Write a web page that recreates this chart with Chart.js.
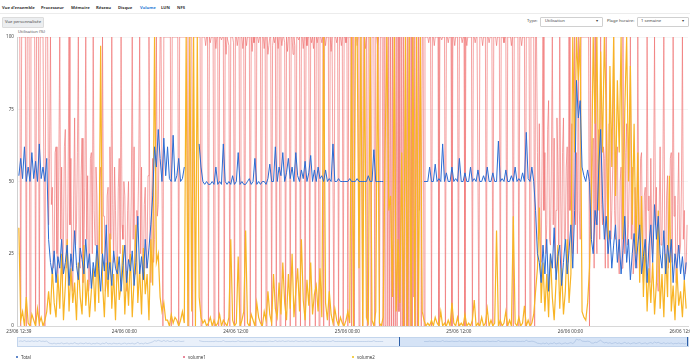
<!DOCTYPE html>
<html><head><meta charset="utf-8">
<script src="https://cdn.jsdelivr.net/npm/chart.js@4.4.1/dist/chart.umd.min.js"></script>
<style>
body{margin:0;width:690px;height:363px;background:#fff;font-family:"Noto Sans","DejaVu Sans",sans-serif;overflow:hidden;position:relative;color:#333}
.a{position:absolute;white-space:nowrap;line-height:1}
.tab{font-size:4.2px;font-weight:700;top:6px;color:#333}
.sel{position:absolute;border:1px solid #d0d0d0;border-radius:1px;background:#fff;height:8px;top:17px}
.sm{font-size:4.2px;color:#444}
.leg{font-size:4.4px;color:#444;top:355px}
.dot{position:absolute;width:2.4px;height:2.4px;border-radius:50%;top:356px}
</style></head><body>
<div class="a tab" style="left:2px">Vue d'ensemble</div>
<div class="a tab" style="left:41px">Processeur</div>
<div class="a tab" style="left:71px">Mémoire</div>
<div class="a tab" style="left:96px">Réseau</div>
<div class="a tab" style="left:118px">Disque</div>
<div class="a tab" style="left:140px;color:#2a7ad6">Volume</div>
<div class="a tab" style="left:161px">LUN</div>
<div class="a tab" style="left:177px">NFS</div>
<div class="a" style="left:0;top:13px;width:690px;height:1px;background:#ececec"></div>
<div class="a sm" style="left:2px;top:17px;width:40px;height:9px;background:#eceef0;border:1px solid #dcdcdc;border-radius:1px;display:flex;align-items:center;justify-content:center">Vue personnalisée</div>
<div class="a sm" style="left:527px;top:19px">Type:</div>
<div class="sel" style="left:540px;width:61px"></div>
<div class="a sm" style="left:545px;top:19px">Utilisation</div>
<div class="a sm" style="left:596px;top:19px">▾</div>
<div class="a sm" style="left:607px;top:19px">Plage horaire:</div>
<div class="sel" style="left:637px;width:50px"></div>
<div class="a sm" style="left:641px;top:19px">1 semaine</div>
<div class="a sm" style="left:682px;top:19px">▾</div>
<div class="a sm" style="left:18px;top:30px;color:#555">Utilisation (%)</div>
<canvas id="c" width="690" height="312" style="position:absolute;left:0;top:28px"></canvas>
<div class="a" style="left:17px;top:337px;width:670px;height:8px;background:#e9f0fa;border:1px solid #c3d5ec"></div>
<div class="a" style="left:399px;top:338px;width:288px;height:8px;background:rgba(170,200,238,0.3)"></div>
<canvas id="n" width="671" height="9" style="position:absolute;left:17px;top:337px"></canvas>
<div class="a" style="left:398.5px;top:337px;width:1px;height:9px;background:#2c5fa8"></div>
<div class="a" style="left:686.5px;top:337px;width:1px;height:9px;background:#2c5fa8"></div>
<div class="dot" style="left:16px;background:#2b5fb8"></div><div class="a leg" style="left:21px">Total</div>
<div class="dot" style="left:183px;background:#e0607a"></div><div class="a leg" style="left:188px">volume1</div>
<div class="dot" style="left:352px;background:#f0c010"></div><div class="a leg" style="left:357px">volume2</div>
<script>
const STEP_H = 0.2;    // hours between Total / volume2 samples, from 23/06 12:39
const STEP_V1_H = 0.1; // hours between volume1 samples
const TICK_HOURS = [0, 11.35, 23.35, 35.35, 47.35, 59.35, 71.35];
const TICK_LABELS = ["23/06 12:39","24/06 00:00","24/06 12:00","25/06 00:00","25/06 12:00","26/06 00:00","26/06 12:00"];
const SERIES_NAMES = ["Total","volume1","volume2"];

const TOTAL = [
52,58,51,62,50,55,50,60,51,57,50,63,51,55,50,58,30,22,18,26,
15,24,20,30,18,22,28,14,25,19,33,21,16,27,23,18,30,20,25,13,
22,17,28,20,12,25,19,35,16,22,14,26,20,18,24,12,21,28,15,23,
19,26,14,22,38,18,24,16,30,20,27,35,45,62,55,68,58,50,65,52,
62,51,50,66,50,52,58,50,51,55,null,null,null,null,null,null,null,63,55,50,
49,50,49,49,50,49,55,49,50,49,63,50,49,50,49,52,49,50,60,49,
50,49,49,50,51,49,50,58,49,50,49,50,50,49,51,56,50,50,62,50,
55,52,60,50,53,58,51,55,50,60,52,50,54,51,57,50,53,59,50,54,
50,55,51,52,50,54,50,51,50,63,50,50,51,50,50,50,50,50,51,50,
50,50,51,50,50,50,50,50,52,50,50,61,50,50,50,50,50,null,null,null,
null,null,null,null,null,null,null,null,null,null,null,null,null,null,null,null,null,null,50,50,
50,55,50,50,56,50,51,50,63,50,53,50,50,55,50,51,50,58,50,50,
53,50,50,55,50,51,50,54,50,50,52,50,55,50,50,53,50,50,64,50,
51,50,54,50,50,52,50,55,50,51,50,53,50,67,51,50,55,50,40,25,
22,15,28,18,30,12,25,20,34,16,24,28,14,22,30,18,26,35,20,40,
85,72,78,55,52,50,54,50,30,25,40,35,55,68,45,30,38,25,33,20,
28,35,22,30,18,26,38,22,30,16,25,32,20,28,35,18,24,30,15,28,
35,22,42,30,38,25,20,33,18,28,22,30,15,25,20,28,18,24,16,22
];

const VOLUME1 = [
100,100,0,100,100,100,100,100,0,100,100,100,0,100,100,100,100,100,0,100,100,100,0,100,100,100,100,100,0,100,100,100,35,58,100,42,48,20,22,60,
62,25,18,55,100,30,55,15,30,62,68,20,22,50,100,35,58,18,12,45,72,28,35,60,100,22,20,52,65,15,28,48,100,30,52,12,15,58,60,25,
100,40,28,55,45,18,20,50,55,25,100,38,38,12,15,45,48,20,62,30,100,42,22,55,40,15,18,48,58,25,100,35,30,50,45,18,12,40,50,22,
25,45,100,30,62,18,20,40,35,55,100,25,55,15,18,42,48,20,28,52,100,35,15,45,58,22,30,50,100,38,42,65,100,100,100,0,100,100,100,100,
100,100,100,100,0,100,100,100,100,100,100,100,0,100,100,100,100,100,100,100,100,100,0,100,100,100,100,0,100,100,100,100,100,100,100,100,0,100,100,100,
100,97,100,100,0,100,98,100,100,100,0,100,96,100,100,0,100,100,99,100,100,0,100,94,100,100,97,0,100,100,100,98,0,100,100,97,100,100,0,100,
100,96,100,0,100,97,100,100,100,0,100,95,100,98,100,0,100,100,98,100,100,0,100,100,96,100,0,100,94,97,100,100,0,97,100,98,100,0,100,96,
100,0,100,97,100,100,98,0,100,95,100,100,0,100,100,94,100,97,0,100,100,99,100,0,100,100,96,100,0,100,97,100,100,0,100,98,100,96,100,0,
100,98,100,0,100,100,98,100,0,100,97,100,100,100,0,100,95,100,100,0,100,100,98,100,0,100,100,97,100,0,100,100,98,100,0,100,100,100,0,100,
100,0,100,100,97,100,0,100,100,100,0,100,100,96,100,0,100,100,100,0,100,100,100,0,100,100,97,100,0,100,100,100,0,100,0,100,100,0,100,0,
100,0,100,0,100,0,100,0,100,5,100,0,100,0,100,0,100,0,100,0,100,0,100,0,100,10,100,0,100,0,100,40,100,0,100,100,0,100,100,100,
100,98,100,100,0,100,100,97,100,100,100,100,0,100,100,99,100,100,100,0,100,100,98,100,100,100,0,100,100,97,100,100,100,0,100,100,100,98,100,100,
0,100,97,100,100,100,100,100,0,100,100,98,100,100,100,0,100,100,100,97,100,100,100,0,100,100,98,100,100,100,0,100,100,100,97,100,100,100,0,100,
100,100,98,100,100,0,100,100,100,100,97,100,0,100,100,100,100,100,0,100,100,97,100,100,100,0,100,100,100,100,0,100,100,100,100,0,100,100,60,30,
70,30,22,58,100,40,60,25,35,68,78,30,28,55,100,35,65,20,40,72,55,28,100,45,18,60,72,30,30,55,62,22,100,40,45,70,25,50,100,35,
60,25,100,40,30,100,100,100,100,100,100,100,100,100,0,100,30,55,65,20,100,35,25,58,68,30,100,42,35,62,58,20,100,45,20,70,75,30,40,55,
100,40,30,58,62,25,18,50,55,20,100,38,25,60,70,28,35,55,100,30,55,18,22,48,48,20,100,35,30,58,60,25,15,45,48,22,100,40,45,15,
58,30,25,50,100,35,48,15,12,40,62,28,30,55,100,25,18,45,52,20,35,58,60,22,100,38,45,15,15,42,60,25,28,50,100,30,40,18,20,35
];

const VOLUME2 = [
34,2,5,0,10,1,0,4,2,0,6,1,3,0,2,5,12,4,20,8,
3,18,6,25,2,14,30,5,20,8,15,2,22,10,4,28,7,16,3,12,
20,5,26,8,97,15,3,22,10,32,6,18,2,24,9,14,28,4,19,7,
25,3,16,35,8,20,4,27,11,18,2,30,14,100,22,25,10,5,8,2,
2,0,4,1,3,2,0,2,5,1,100,0,100,5,100,0,100,10,3,1,
2,0,1,3,0,2,0,1,4,0,2,1,0,3,30,2,0,1,24,0,
2,5,33,1,0,4,2,0,8,3,1,0,5,2,12,4,1,18,6,3,
15,4,22,8,2,18,6,25,3,12,20,5,30,9,2,16,7,22,4,11,
14,5,20,3,100,8,2,12,4,1,6,2,0,3,1,0,2,5,1,100,
0,100,100,20,100,0,100,3,1,100,2,0,5,100,1,0,3,60,100,40,
45,10,100,5,30,8,60,0,100,0,100,0,100,0,100,0,100,5,2,0,
1,0,2,0,3,1,0,5,0,1,0,2,0,8,1,0,3,0,1,0,
4,0,1,0,2,9,0,1,0,3,0,1,6,0,2,0,1,33,0,2,
0,1,5,0,2,0,38,1,0,3,0,1,7,0,2,0,1,4,12,20,
41,8,22,5,18,3,25,10,2,15,28,6,20,4,12,30,8,18,100,60,
100,85,100,5,3,2,8,20,45,100,70,100,40,95,60,100,75,30,90,55,
100,45,85,60,100,30,75,100,50,90,35,70,25,60,15,45,10,30,5,20,
8,22,4,15,40,6,18,3,25,10,52,5,14,2,20,7,12,3,16,6
];

const toXY = (arr, step) => arr.map((v, i) => ({x: i * step, y: v}));
const FONT = {family: "'Noto Sans','DejaVu Sans',sans-serif", size: 4.6};

new Chart(document.getElementById('c'), {
  type: 'line',
  data: {datasets: [
    {label: SERIES_NAMES[0], data: toXY(TOTAL, STEP_H), borderColor: '#2b6bd3', borderWidth: 1, order: 0},
    {label: SERIES_NAMES[1], data: toXY(VOLUME1, STEP_V1_H), borderColor: 'rgba(240,112,112,0.72)', borderWidth: 0.9, order: 2},
    {label: SERIES_NAMES[2], data: toXY(VOLUME2, STEP_H), borderColor: '#f8b425', borderWidth: 1.2, order: 1}
  ]},
  options: {
    responsive: false, animation: false, devicePixelRatio: 1,
    spanGaps: false,
    elements: {point: {radius: 0, hoverRadius: 0}, line: {tension: 0}},
    layout: {padding: {top: 9, right: 2, left: 0, bottom: 0}},
    plugins: {legend: {display: false}, tooltip: {enabled: false}},
    scales: {
      x: {
        type: 'linear', min: -0.2, max: 72,
        afterBuildTicks: s => { s.ticks = TICK_HOURS.map(v => ({value: v})); },
        afterFit: s => { s.height = 14; s.paddingLeft = 0; s.paddingRight = 0; },
        ticks: {autoSkip: false, maxRotation: 0, padding: 3, font: FONT, color: '#444',
          callback: (v, i) => TICK_LABELS[i]},
        grid: {display: false, drawTicks: false},
        border: {display: true, color: '#d8d8d8'}
      },
      y: {
        min: 0, max: 100,
        afterFit: s => { s.width = 17; },
        ticks: {stepSize: 25, padding: 3, font: FONT, color: '#444'},
        grid: {color: '#eeeeee', drawTicks: false, lineWidth: 0.6},
        border: {display: true, color: '#d0d0d0'}
      }
    }
  }
});

new Chart(document.getElementById('n'), {
  type: 'line',
  data: {datasets: [{data: toXY(TOTAL, STEP_H), borderColor: 'rgba(130,160,205,0.7)', borderWidth: 0.5, pointRadius: 0}]},
  options: {
    responsive: false, animation: false, devicePixelRatio: 1,
    layout: {padding: {top: 1, bottom: 1}},
    plugins: {legend: {display: false}, tooltip: {enabled: false}},
    scales: {x: {type: 'linear', min: -0.2, max: 72, display: false}, y: {min: 0, max: 100, display: false}}
  }
});
</script>
</body></html>
